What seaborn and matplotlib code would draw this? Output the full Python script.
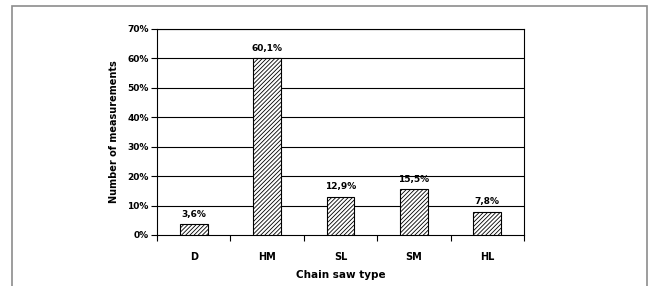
import matplotlib
matplotlib.use("Agg")
import matplotlib.pyplot as plt
import seaborn as sns
import pandas as pd
from matplotlib.patches import Rectangle
from matplotlib.ticker import FixedLocator

categories = ["D", "HM", "SL", "SM", "HL"]
values = [3.6, 60.1, 12.9, 15.5, 7.8]
value_labels = ["3,6%", "60,1%", "12,9%", "15,5%", "7,8%"]
yticks = [0, 10, 20, 30, 40, 50, 60, 70]
ytick_labels = ["0%", "10%", "20%", "30%", "40%", "50%", "60%", "70%"]

sns.set_theme(style="white")
plt.rcParams["font.family"] = ["DejaVu Sans"]
plt.rcParams["hatch.linewidth"] = 0.6
plt.rcParams["hatch.color"] = "black"
plt.rcParams["text.color"] = "black"
plt.rcParams["axes.labelcolor"] = "black"
plt.rcParams["xtick.color"] = "black"
plt.rcParams["ytick.color"] = "black"

df = pd.DataFrame({"type": categories, "value": values})

W, H = 649, 286
fig = plt.figure(figsize=(W / 100, H / 100), dpi=100)
fig.patch.set_facecolor("white")

# outer frame
fig.patches.append(Rectangle((12 / W, -0.05), (647 - 12) / W, 1 - 6 / H + 0.05,
                             transform=fig.transFigure, fill=False,
                             edgecolor="#8c8c8c", linewidth=1.2))

ax = fig.add_axes([157 / W, 1 - 235 / H, (524 - 157) / W, (235 - 29) / H])
ax.set_facecolor("white")

sns.barplot(data=df, x="type", y="value", ax=ax, color="white",
            edgecolor="black", linewidth=0.8, width=0.38, saturation=1,
            zorder=3)
for p in ax.patches:
    p.set_hatch("////////")
    p.set_zorder(3)

ax.set_ylim(0, 70)
ax.set_xlim(-0.5, 4.5)
ax.set_yticks(yticks)
ax.set_yticklabels(ytick_labels, fontsize=6.5, fontweight="bold")
for y in yticks[1:]:
    ax.axhline(y, color="black", linewidth=0.8, zorder=1)

ax.set_xticks(range(len(categories)))
ax.set_xticklabels(categories, fontsize=7, fontweight="bold")
ax.tick_params(axis="x", which="major", length=0, pad=12)
ax.xaxis.set_minor_locator(FixedLocator([-0.5, 0.5, 1.5, 2.5, 3.5, 4.5]))
ax.tick_params(axis="x", which="minor", length=4, width=0.8, color="black", direction="out", bottom=True)
ax.tick_params(axis="y", length=4, width=0.8, color="black", direction="out", left=True, pad=2)

for s in ["left", "bottom", "right", "top"]:
    ax.spines[s].set_visible(True)
    ax.spines[s].set_color("black")
    ax.spines[s].set_linewidth(0.8)

ax.bar_label(ax.containers[0], labels=value_labels, padding=4,
             fontsize=6.5, fontweight="bold", color="black")

ax.set_xlabel("Chain saw type", fontsize=7.5, fontweight="bold", labelpad=6)
ax.set_ylabel("Number of measurements", fontsize=7, fontweight="bold", labelpad=6)

fig.savefig("out.png", dpi=100, facecolor="white")
